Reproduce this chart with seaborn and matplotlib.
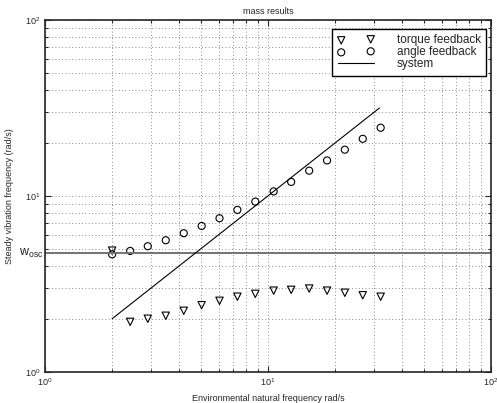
import numpy as np
import pandas as pd
import seaborn as sns
import matplotlib.pyplot as plt
from matplotlib.ticker import LogLocator, NullFormatter
from matplotlib import transforms

# Data
env_freq = [2.0, 2.41, 2.89, 3.48, 4.19, 5.04, 6.06, 7.29, 8.77, 10.6, 12.7, 15.3, 18.4, 22.1, 26.6, 32.0]
torque_fb = [4.88, 1.92, 2.00, 2.08, 2.22, 2.39, 2.53, 2.67, 2.77, 2.89, 2.92, 2.97, 2.89, 2.81, 2.72, 2.67]
angle_fb = [4.65, 4.86, 5.17, 5.59, 6.13, 6.74, 7.46, 8.32, 9.27, 10.6, 12.0, 13.9, 15.9, 18.3, 21.1, 24.4]
system_x = [2.0, 31.6]
system_y = [2.0, 31.6]
w_osc = 4.71

df = pd.DataFrame({'freq': env_freq, 'torque': torque_fb, 'angle': angle_fb})
df_sys = pd.DataFrame({'x': system_x, 'y': system_y})

sns.set_style('ticks')
plt.rcParams['font.family'] = ['Liberation Sans', 'DejaVu Sans']
plt.rcParams['mathtext.fontset'] = 'custom'
plt.rcParams['mathtext.rm'] = 'Liberation Sans'

fig = plt.figure(figsize=(4.97, 4.03), dpi=100)
ax = fig.add_axes([0.0905, 0.0777, 0.8975, 0.8727])

ax.set_xscale('log')
ax.set_yscale('log')

sns.scatterplot(data=df, x='freq', y='torque', marker='v', s=28, facecolor='none',
                edgecolor='black', linewidth=0.8, label='torque feedback', ax=ax)
sns.scatterplot(data=df, x='freq', y='angle', marker='o', s=26, facecolor='none',
                edgecolor='black', linewidth=0.8, label='angle feedback', ax=ax)
sns.lineplot(data=df_sys, x='x', y='y', color='black', linewidth=0.8, label='system', ax=ax)
ax.axhline(w_osc, color='0.45', linewidth=1.4, zorder=1)

ax.set_xlim(1, 100)
ax.set_ylim(1, 100)

# grid, major and minor, dotted
ax.xaxis.set_minor_locator(LogLocator(subs=np.arange(2, 10)))
ax.yaxis.set_minor_locator(LogLocator(subs=np.arange(2, 10)))
ax.xaxis.set_minor_formatter(NullFormatter())
ax.yaxis.set_minor_formatter(NullFormatter())
ax.grid(True, which='both', linestyle=(0, (1, 3)), color='0.4', linewidth=0.6)

ax.tick_params(which='both', direction='in', top=True, right=True, labelsize=6.5, width=0.8)
ax.tick_params(which='major', length=4)
ax.tick_params(which='minor', length=2)
for s in ax.spines.values():
    s.set_linewidth(1.2)

ax.set_title('mass results', fontsize=6.5, pad=4)
ax.set_xlabel('Environmental natural frequency rad/s', fontsize=6.5, labelpad=4)
ax.set_ylabel('Steady vibration frequency (rad/s)', fontsize=6.5, labelpad=8)

# w_osc label just left of the axes
trans = transforms.blended_transform_factory(ax.transAxes, ax.transData)
ax.text(-0.004, w_osc * 1.0, r'$\mathregular{w_{osc}}$', transform=trans,
        ha='right', va='center', fontsize=9)

leg = ax.legend(loc='upper right', fontsize=8.5, frameon=True, fancybox=False,
                scatterpoints=2, handlelength=3.1, handletextpad=1.9, borderpad=0.45,
                labelspacing=0.0, borderaxespad=0, bbox_to_anchor=(0.989, 0.974))
leg.get_frame().set_edgecolor('black')
leg.get_frame().set_linewidth(1.0)
leg.get_frame().set_alpha(1)

fig.savefig('out.png', dpi=100)
